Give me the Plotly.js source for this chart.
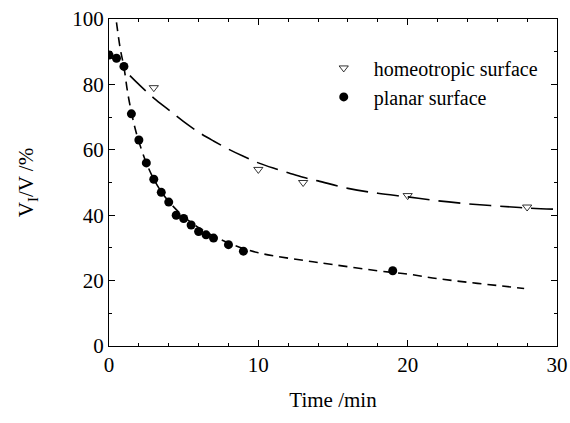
<!DOCTYPE html>
<html>
<head>
<meta charset="utf-8">
<script src="https://cdn.plot.ly/plotly-3.0.1.min.js"></script>
<style>html,body{margin:0;padding:0;background:#fff;font-family:"Liberation Serif";}#chart{width:570px;height:423px;}</style>
</head>
<body>
<div id="chart"></div>
<script>
// Measured data
var homeoX = [3, 10, 13, 20, 28];
var homeoY = [79, 54, 50, 46, 42.5];
var planarX = [0, 0.5, 1, 1.5, 2, 2.5, 3, 3.5, 4, 4.5, 5, 5.5, 6, 6.5, 7, 8, 9, 19];
var planarY = [89, 88, 85.5, 71, 63, 56, 51, 47, 44, 40, 39, 37, 35, 34, 33, 31, 29, 23];

// Fitted curves
var homeoFitX = [1.4, 2, 3, 4, 5, 6, 7, 8, 9, 10, 11, 12, 13, 14, 16, 18, 20, 22, 24, 26, 28, 30];
var homeoFitY = [82.7, 80, 75.8, 72.2, 68.6, 65.4, 62.7, 60.2, 58, 56, 54.4, 53, 51.6, 50.5, 48.2, 46.7, 45.6, 44.4, 43.5, 42.8, 42.2, 41.8];
var planarFitX = [0.5, 0.75, 1, 1.25, 1.5, 1.75, 2, 2.5, 3, 3.5, 4, 5, 6, 7, 8, 9, 10, 11, 13, 15, 18, 20, 22, 24, 26, 27.8];
var planarFitY = [99, 91, 85.3, 77.5, 71.5, 66.5, 62.5, 56, 51, 47.2, 44.2, 39.6, 36.2, 33.6, 31.5, 29.8, 28.5, 27.6, 26.2, 24.9, 23, 22, 20.6, 19.5, 18.5, 17.6];

var legendNames = ["homeotropic surface", "planar surface"];

var FONT = "Liberation Serif";

var traces = [
  {x: homeoFitX, y: homeoFitY, mode: "lines", line: {color: "#000", width: 1.6, dash: "22px,9px", shape: "spline"}, showlegend: false, hoverinfo: "skip"},
  {x: planarFitX, y: planarFitY, mode: "lines", line: {color: "#000", width: 1.6, dash: "9px,6px", shape: "spline"}, showlegend: false, hoverinfo: "skip"},
  {x: homeoX, y: homeoY, mode: "markers", name: legendNames[0], marker: {symbol: "triangle-down-open", size: 8, color: "#000", line: {width: 0.8, color: "#000"}}},
  {x: planarX, y: planarY, mode: "markers", name: legendNames[1], marker: {symbol: "circle", size: 9, color: "#000"}}
];

var layout = {
  width: 570, height: 423,
  margin: {l: 109, r: 13, t: 19, b: 77},
  paper_bgcolor: "#fff", plot_bgcolor: "#fff",
  font: {family: FONT, size: 21, color: "#000"},
  showlegend: true,
  legend: {x: 0.457, y: 0.91, xanchor: "left", yanchor: "top", itemwidth: 50, bgcolor: "rgba(0,0,0,0)", font: {family: FONT, size: 20, color: "#000"}, tracegroupgap: 0},
  xaxis: {
    range: [0, 30], dtick: 10, showgrid: false, zeroline: false,
    showline: true, linecolor: "#000", linewidth: 1, mirror: "ticks",
    ticks: "inside", ticklen: 6, tickcolor: "#000",
    minor: {dtick: 2, ticks: "inside", ticklen: 3, tickcolor: "#000"},
    tickfont: {family: FONT, size: 21, color: "#000"},
    title: {text: "Time /min", font: {family: FONT, size: 21, color: "#000"}, standoff: 16}
  },
  yaxis: {
    range: [0, 100], dtick: 20, showgrid: false, zeroline: false,
    showline: true, linecolor: "#000", linewidth: 1, mirror: "ticks",
    ticks: "inside", ticklen: 6, tickcolor: "#000",
    minor: {dtick: 10, ticks: "inside", ticklen: 3, tickcolor: "#000"},
    tickfont: {family: FONT, size: 21, color: "#000"},
    title: {text: "V<sub>I</sub>/V /%", font: {family: FONT, size: 21, color: "#000"}, standoff: 32}
  }
};

Plotly.newPlot("chart", traces, layout, {displayModeBar: false, staticPlot: true});
</script>
</body>
</html>
